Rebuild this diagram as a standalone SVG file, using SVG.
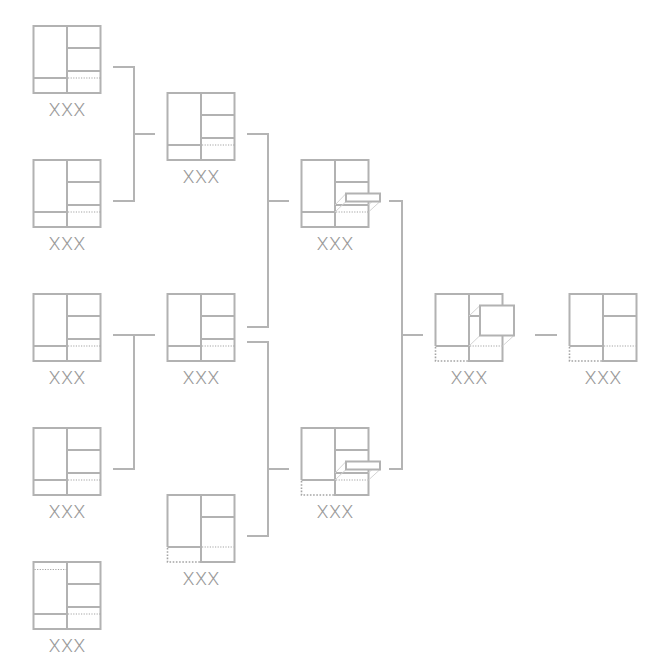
<svg xmlns="http://www.w3.org/2000/svg" width="670" height="670" viewBox="0 0 670 670">
<style>
.s{fill:none;stroke:#b2b2b2;stroke-width:2}
.d{fill:none;stroke:#a4a4a4;stroke-width:1.2;stroke-dasharray:1.2 1.4}
.dk{fill:none;stroke:#a4a4a4;stroke-width:1.6;stroke-dasharray:1.6 1.6}
.f{fill:none;stroke:#d4d4d4;stroke-width:1}
.w{fill:#fff;stroke:#b2b2b2;stroke-width:2}
.c{fill:none;stroke:#b4b4b4;stroke-width:2}
text{font-family:Roboto,"Liberation Sans",Arial,sans-serif;font-weight:300;font-size:19px;letter-spacing:0.8px;fill:#9a9a9a;text-anchor:middle}
</style>
<defs>
<g id="full"><rect class="s" x="0" y="0" width="67" height="67"/><path class="s" d="M33.500 0V67M33.500 22H67M33.500 45H67M0 52H33.500"/><path class="d" d="M34.500 52H67"/></g>
</defs>
<g id="connectors">
<path class="c" d="M113 67H134V201H113M134 134H155"/>
<path class="c" d="M113 335H155M134 335V469H113"/>
<path class="c" d="M247 134H268V327H247M268 201H289"/>
<path class="c" d="M247 342H268V536H247M268 469H289"/>
<path class="c" d="M389 201H402V469H389M402 335H423"/>
<path class="c" d="M535 335H557"/>
</g>
<g id="n1" transform="translate(33.500 26)"><use href="#full"/><text x="33.900" y="89.500">XXX</text></g>
<g id="n2" transform="translate(33.500 160)"><use href="#full"/><text x="33.900" y="89.500">XXX</text></g>
<g id="n3" transform="translate(33.500 294)"><use href="#full"/><text x="33.900" y="89.500">XXX</text></g>
<g id="n4" transform="translate(33.500 428)"><use href="#full"/><text x="33.900" y="89.500">XXX</text></g>
<g id="n5" transform="translate(33.500 562)"><use href="#full"/><path class="d" d="M1 7.500H33"/><text x="33.900" y="89.500">XXX</text></g>
<g id="n6" transform="translate(167.500 93)"><use href="#full"/><text x="33.900" y="89.500">XXX</text></g>
<g id="n7" transform="translate(167.500 294)"><use href="#full"/><text x="33.900" y="89.500">XXX</text></g>
<g id="n8" transform="translate(167.500 495)">
<path class="s" d="M0 52V0H67V67H33.500V0M33.500 22H67M0 52H33.500"/><path class="d" d="M34.500 52H66"/><path class="dk" d="M0 53V67H33"/><text x="33.900" y="89.500">XXX</text></g>
<g id="n9" transform="translate(301.500 160)"><use href="#full"/>
<path class="f" d="M33.500 45L44.500 33.500M33.500 52L44.500 41.500M78.500 33.500L67 45M78.500 41.500L67 52"/>
<rect class="w" x="44.500" y="33.500" width="34" height="8"/><text x="33.900" y="89.500">XXX</text></g>
<g id="n10" transform="translate(301.500 428)">
<path class="s" d="M0 52V0H67V67H33.500V0M33.500 22H67M33.500 45H67M0 52H33.500"/><path class="d" d="M34.500 52H66"/><path class="dk" d="M0 53V67H33"/>
<path class="f" d="M33.500 45L44.500 33.500M33.500 52L44.500 41.500M78.500 33.500L67 45M78.500 41.500L67 52"/>
<rect class="w" x="44.500" y="33.500" width="34" height="8"/><text x="33.900" y="89.500">XXX</text></g>
<g id="n11" transform="translate(435.500 294)">
<path class="s" d="M0 52V0H67V67H33.500V0M33.500 22H67M0 52H33.500"/><path class="d" d="M34.500 52H66"/><path class="dk" d="M0 53V67H33"/>
<path class="f" d="M33.500 22L44.500 11.500M33.500 52L44.500 41.500M78.500 41.500L67 52"/>
<rect class="w" x="44.500" y="11.500" width="34" height="30"/><text x="33.900" y="89.500">XXX</text></g>
<g id="n12" transform="translate(569.500 294)">
<path class="s" d="M0 52V0H67V67H33.500V0M33.500 22H67M0 52H33.500"/><path class="d" d="M34.500 52H66"/><path class="dk" d="M0 53V67H33"/><text x="33.900" y="89.500">XXX</text></g>
</svg>
